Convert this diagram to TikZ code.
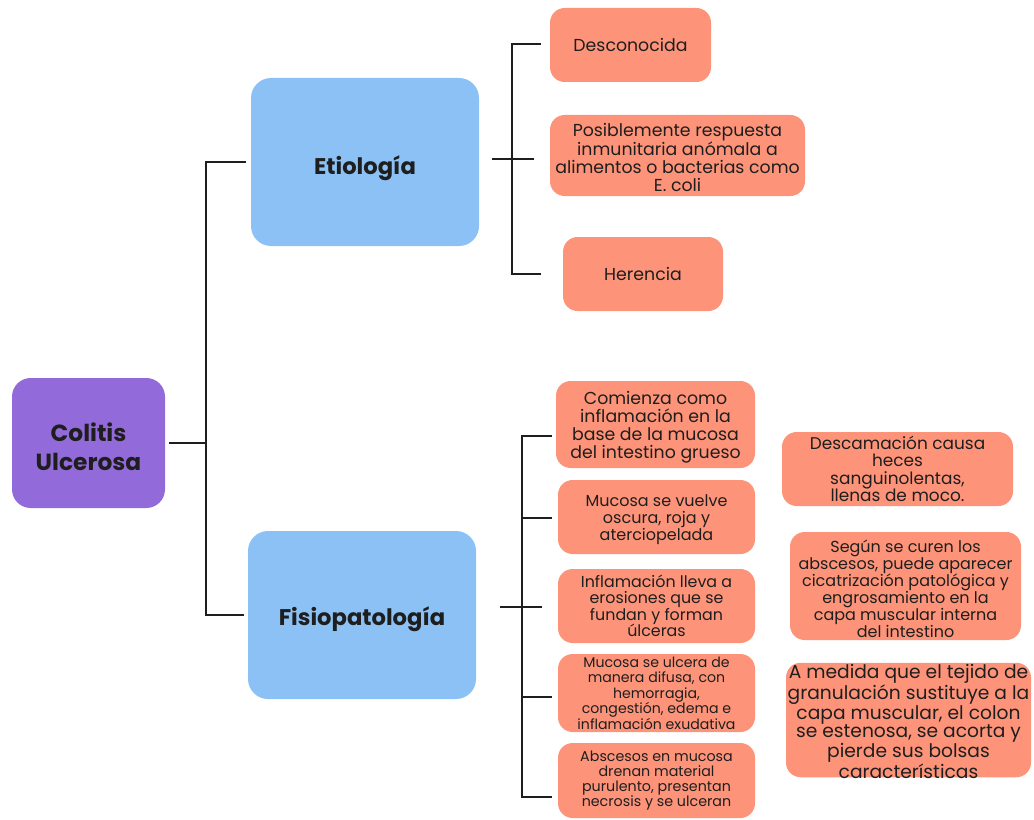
\documentclass[tikz,border=0pt]{standalone}
\usepackage{fontspec}
\setmainfont{Poppins}
\setlength\lineskiplimit{-30pt}
\definecolor{salmon}{RGB}{253,148,121}
\definecolor{skyb}{RGB}{139,193,244}
\definecolor{purp}{RGB}{147,106,218}
\definecolor{ink}{RGB}{30,30,30}
\newcommand\lowtext[3]{\raisebox{-#1}[\height][\depth]{\parbox{#2}{\centering #3}}}
\newcommand\lowone[2]{\raisebox{-#1}[\height][\depth]{#2}}
\newcommand\fs[2]{\fontsize{#1}{#2}\selectfont\setlength\lineskiplimit{-30pt}}
\tikzset{
  bx/.style n args={4}{at={({(#1+#3)/2},{(#2+#4)/2})},
      minimum width={(#3-#1)*0.75pt}, minimum height={(#4-#2)*0.75pt}},
  base/.style={inner sep=0pt, align=center, text=ink},
  orangebox/.style={base, fill=salmon, rounded corners=11pt},
  bluebox/.style={base, fill=skyb, rounded corners=15pt, font=\bfseries\fs{17}{20}},
  purplebox/.style={base, fill=purp, rounded corners=14pt, font=\bfseries\fs{17.5}{21.5}},
  link/.style={line width=1.8pt, ink, line cap=rect},
  fa/.style={font=\fs{13}{13.5}},
  f1/.style={font=\fs{13}{13.5}},
  f2/.style={font=\fs{12}{12.75}},
  f3/.style={font=\fs{11.9}{12.4}},
  f4/.style={font=\fs{10.6}{11.6}},
  f5/.style={font=\fs{10.7}{11.25}},
  g1s/.style={font=\fs{12.7}{13.1}},
  g2s/.style={font=\fs{12}{12.75}},
  g3s/.style={font=\fs{14}{13.4}},
}
\begin{document}
\begin{tikzpicture}[x=0.75pt,y=-0.75pt]
\useasboundingbox (0,0) rectangle (1034,820);
% main nodes
\node[purplebox, bx={12}{378}{165}{508}] (cu) {\lowtext{3pt}{110pt}{Colitis\\Ulcerosa}};
\node[bluebox, bx={251}{78}{479}{246}] (et) {\lowone{5pt}{Etiología}};
\node[bluebox, bx={248}{531}{476}{699}] (fi) {\lowone{3.5pt}{Fisiopatología}};
% etiologia children
\node[orangebox, fa, bx={550}{8}{711}{82}] (e1) {Desconocida};
\node[orangebox, fa, bx={550}{115}{805}{196}] (e2) {\lowtext{1.5pt}{188pt}{Posiblemente respuesta\\inmunitaria anómala a\\alimentos o bacterias como\\E. coli}};
\node[orangebox, fa, bx={563}{237}{723}{311}] (e3) {Herencia};
% fisiopatologia children
\node[orangebox, f1, bx={556}{381}{755}{468}] (n1) {\lowtext{2.2pt}{146pt}{Comienza como\\inflamación en la\\base de la mucosa\\del intestino grueso}};
\node[orangebox, f2, bx={558}{480}{755}{554}] (n2) {\lowtext{2.2pt}{145pt}{Mucosa se vuelve\\oscura, roja y\\aterciopelada}};
\node[orangebox, f3, bx={558}{569}{755}{643}] (n3) {Inflamación lleva a\\erosiones que se\\fundan y forman\\úlceras};
\node[orangebox, f4, bx={558}{654}{755}{732}] (n4) {Mucosa se ulcera de\\manera difusa, con\\hemorragia,\\congestión, edema e\\inflamación exudativa};
\node[orangebox, f5, bx={558}{743}{755}{818}] (n5) {Abscesos en mucosa\\drenan material\\purulento, presentan\\necrosis y se ulceran};
\node[orangebox, g1s, bx={782}{432}{1013}{506}] (g1) {Descamación causa\\heces\\sanguinolentas,\\llenas de moco.};
\node[orangebox, g2s, bx={790}{532}{1021}{640}] (g2) {\lowtext{2.2pt}{170pt}{Según se curen los\\abscesos, puede aparecer\\cicatrización patológica y\\engrosamiento en la\\capa muscular interna\\del intestino}};
\node[orangebox, g3s, bx={786}{663}{1031}{777}] (g3) {\lowtext{1pt}{183pt}{A medida que el tejido de\\granulación sustituye a la\\capa muscular, el colon\\se estenosa, se acorta y\\pierde sus bolsas\\características}};
% connectors: root
\coordinate (rj) at (206,443);
\draw[link] ([xshift=3.5pt]cu.east) -- (rj);
\draw[link] ([xshift=-4.5pt]et.west) -| (rj) |- ([xshift=-4pt]fi.west);
% etiologia bracket
\coordinate (ea) at (493,159);
\coordinate (eb) at (533,159);
\coordinate (et1) at (540,44);
\coordinate (et3) at (540,274);
\draw[link] (ea) -- (eb);
\draw[link] (et1) -| (512,159) |- (et3);
% fisiopatologia bracket
\coordinate (fa) at (501,607);
\coordinate (fb) at (541,607);
\coordinate (ft1) at (551,436);
\coordinate (ft2) at (551,518);
\coordinate (ft4) at (551,697);
\coordinate (ft5) at (551,797);
\draw[link] (fa) -- (fb);
\draw[link] (ft1) -| (522,607) |- (ft5);
\draw[link] (522,518) -- (ft2);
\draw[link] (522,697) -- (ft4);
\end{tikzpicture}
\end{document}
